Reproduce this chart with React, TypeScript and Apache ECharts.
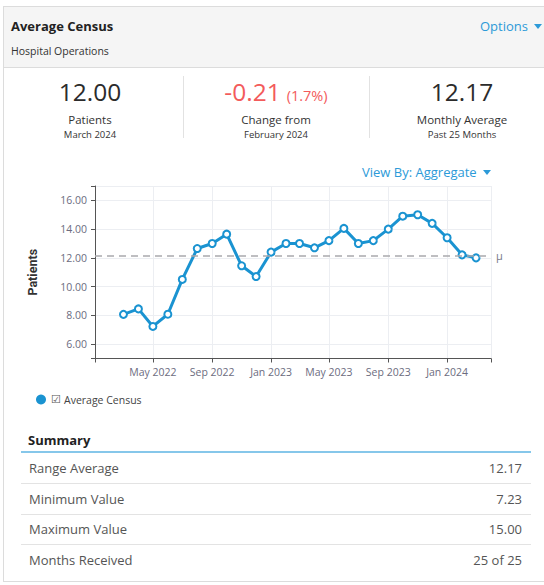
import React, { useEffect, useRef } from 'react';
import * as echarts from 'echarts';

const months = [
  '2022-03', '2022-04', '2022-05', '2022-06', '2022-07', '2022-08', '2022-09', '2022-10', '2022-11', '2022-12',
  '2023-01', '2023-02', '2023-03', '2023-04', '2023-05', '2023-06', '2023-07', '2023-08', '2023-09', '2023-10',
  '2023-11', '2023-12', '2024-01', '2024-02', '2024-03',
];
const census = [
  8.07, 8.45, 7.23, 8.08, 10.5, 12.65, 13.0, 13.65, 11.45, 10.7,
  12.4, 13.0, 13.0, 12.7, 13.2, 14.05, 13.0, 13.2, 14.0, 14.9,
  15.0, 14.4, 13.4, 12.21, 12.0,
];
const yLabelValues = [6, 8, 10, 12, 14, 16];
const yTickValues = [5, 6, 8, 10, 12, 14, 16, 17];
const yRange = [5, 17];
const xLabelMonths = ['2022-05', '2022-09', '2023-01', '2023-05', '2023-09', '2024-01'];
const xRange = ['2022-01', '2024-04'];
const monthNames = ['Jan', 'Feb', 'Mar', 'Apr', 'May', 'Jun', 'Jul', 'Aug', 'Sep', 'Oct', 'Nov', 'Dec'];

const kpiValues = ['12.00', '-0.21', '12.17'];
const kpiExtra = ['', '(1.7%)', ''];
const kpiLabels = ['Patients', 'Change from', 'Monthly Average'];
const kpiSubLabels = ['March 2024', 'February 2024', 'Past 25 Months'];

const summaryLabels = ['Range Average', 'Minimum Value', 'Maximum Value', 'Months Received'];
const summaryValues = ['12.17', '7.23', '15.00', '25 of 25'];

const ts = (m: string) => {
  const [y, mo] = m.split('-').map(Number);
  return Date.UTC(y, mo - 1, 1);
};

const FONT = "'Open Sans', 'Noto Sans', sans-serif";
const BLUE = '#1a93d1';
const LINK = '#2c9ad8';
const RED = '#f35b5b';

function Caret({ color }: { color: string }) {
  return (
    <span
      style={{
        display: 'inline-block',
        width: 0,
        height: 0,
        borderLeft: '4px solid transparent',
        borderRight: '4px solid transparent',
        borderTop: `5px solid ${color}`,
        verticalAlign: 'middle',
        marginLeft: 6,
        marginTop: -2,
      }}
    />
  );
}

export default function App() {
  const ref = useRef<HTMLDivElement>(null);

  useEffect(() => {
    if (!ref.current) return;
    const chart = echarts.init(ref.current, undefined, { renderer: 'svg' });
    const mean = census.reduce((a, b) => a + b, 0) / census.length;
    const xTicks = [xRange[0], ...xLabelMonths, xRange[1]].map(ts);
    const option: any = {
      animation: false,
      textStyle: { fontFamily: FONT },
      grid: { left: 95, right: 53, top: 186, bottom: 226.5, containLabel: false },
      legend: {
        left: 31,
        top: 389,
        itemWidth: 10,
        itemHeight: 10,
        textStyle: {
          fontSize: 10.5,
          color: '#444',
          fontFamily: FONT,
          rich: { cb: { fontFamily: 'DejaVu Sans', fontSize: 11, color: '#555', width: 13 } },
        },
        formatter: (name: string) => `{cb|☑}${name}`,
        data: [{ name: 'Average Census', icon: 'circle', itemStyle: { color: BLUE, borderWidth: 0 } }],
        selectedMode: false,
      },
      xAxis: {
        type: 'value',
        min: ts(xRange[0]),
        max: ts(xRange[1]),
        axisLine: { show: true, lineStyle: { color: '#555', width: 1 } },
        axisTick: { show: true, length: 4, lineStyle: { color: '#555' }, customValues: xTicks },
        axisLabel: {
          customValues: xLabelMonths.map(ts),
          formatter: (v: number) => {
            const d = new Date(v);
            return `${monthNames[d.getUTCMonth()]} ${d.getUTCFullYear()}`;
          },
          color: '#6c6c80',
          fontSize: 10.5,
          margin: 8,
          fontFamily: FONT,
        },
        splitLine: { show: true, lineStyle: { color: '#eceef2', width: 1 } },
      },
      yAxis: {
        type: 'value',
        min: yRange[0],
        max: yRange[1],
        name: 'Patients',
        nameLocation: 'middle',
        nameGap: 56,
        nameTextStyle: { fontWeight: 'bold', fontSize: 12.5, color: '#333', fontFamily: 'Roboto' },
        axisLine: { show: true, lineStyle: { color: '#555', width: 1 } },
        axisTick: { show: true, length: 4, lineStyle: { color: '#555' }, customValues: yTickValues },
        axisLabel: {
          customValues: yLabelValues,
          formatter: (v: number) => v.toFixed(2),
          color: '#6c6c80',
          fontSize: 10.5,
          margin: 8,
          fontFamily: FONT,
        },
        splitLine: { show: true, lineStyle: { color: '#eceef2', width: 1 } },
      },
      series: [
        {
          type: 'line',
          name: 'Average Census',
          data: months.map((m, i) => [ts(m), census[i]]),
          symbol: 'circle',
          symbolSize: 7,
          showAllSymbol: true,
          lineStyle: { width: 3, color: BLUE },
          itemStyle: { color: '#fff', borderColor: BLUE, borderWidth: 2 },
          z: 3,
          markLine: {
            silent: true,
            symbol: ['none', 'none'],
            data: [{ yAxis: mean }],
            lineStyle: { type: [7, 5], color: '#a9a9ad', width: 1.5 },
            label: { show: true, position: 'end', formatter: 'μ', color: '#7a7a8a', fontSize: 11, distance: 5 },
          },
        },
      ],
    };
    chart.setOption(option);
    return () => chart.dispose();
  }, []);

  const colCenters = [90, 276, 462];
  const rowCenters = [468, 498.5, 529, 559.5];

  return (
    <div
      style={{
        position: 'fixed',
        left: 0,
        top: 0,
        width: 544,
        height: 585,
        overflow: 'hidden',
        background: '#fff',
        fontFamily: FONT,
        color: '#333',
      }}
    >
      <div
        style={{
          position: 'absolute',
          left: 3,
          top: 6,
          width: 600,
          height: 576,
          border: '1px solid #dcdcdc',
          boxSizing: 'border-box',
        }}
      />
      <div
        style={{
          position: 'absolute',
          left: 4,
          top: 7,
          width: 600,
          height: 60,
          background: '#f5f5f5',
          borderBottom: '1px solid #dcdcdc',
        }}
      />
      <div style={{ position: 'absolute', left: 11, top: 17, fontSize: 13, fontWeight: 700, lineHeight: '18px', color: '#222' }}>
        Average Census
      </div>
      <div style={{ position: 'absolute', left: 11, top: 43, fontSize: 10.5, lineHeight: '16px', color: '#333' }}>
        Hospital Operations
      </div>
      <div style={{ position: 'absolute', left: 480, top: 17, fontSize: 13, lineHeight: '18px', color: LINK, whiteSpace: 'nowrap' }}>
        Options
        <Caret color={LINK} />
      </div>

      {kpiValues.map((v, i) => (
        <React.Fragment key={i}>
          <div
            style={{
              position: 'absolute',
              left: colCenters[i] - 93,
              top: 77,
              width: 186,
              height: 30,
              lineHeight: '30px',
              textAlign: 'center',
              fontSize: 24.5,
              color: i === 1 ? RED : '#2b2b2b',
              whiteSpace: 'nowrap',
            }}
          >
            {v}
            {kpiExtra[i] ? (
              <span style={{ fontSize: 14.5, lineHeight: '14px', marginLeft: 6, color: RED }}>{kpiExtra[i]}</span>
            ) : null}
          </div>
          <div
            style={{
              position: 'absolute',
              left: colCenters[i] - 93,
              top: 114,
              width: 186,
              textAlign: 'center',
              fontSize: 11.5,
              lineHeight: '12px',
              color: '#333',
            }}
          >
            {kpiLabels[i]}
          </div>
          <div
            style={{
              position: 'absolute',
              left: colCenters[i] - 93,
              top: 129.5,
              width: 186,
              textAlign: 'center',
              fontSize: 9.5,
              lineHeight: '10px',
              color: '#333',
            }}
          >
            {kpiSubLabels[i]}
          </div>
        </React.Fragment>
      ))}
      {[183, 369].map((x) => (
        <div key={x} style={{ position: 'absolute', left: x, top: 76, width: 1, height: 62, background: '#e2e2e2' }} />
      ))}

      <div style={{ position: 'absolute', left: 362, top: 163, fontSize: 13, lineHeight: '18px', color: LINK, whiteSpace: 'nowrap' }}>
        View By: Aggregate
        <Caret color={LINK} />
      </div>

      <div ref={ref} style={{ position: 'absolute', left: 0, top: 0, width: 544, height: 585 }} />

      <div style={{ position: 'absolute', left: 28, top: 431, fontSize: 13, fontWeight: 700, lineHeight: '18px', color: '#222' }}>
        Summary
      </div>
      <div style={{ position: 'absolute', left: 21, top: 451, width: 510, height: 2, background: '#86c7ea' }} />
      {summaryLabels.map((l, i) => (
        <React.Fragment key={l}>
          <div style={{ position: 'absolute', left: 29, top: rowCenters[i] - 9, fontSize: 13, lineHeight: '18px', color: '#555' }}>{l}</div>
          <div style={{ position: 'absolute', right: 544 - 522, top: rowCenters[i] - 9, fontSize: 13, lineHeight: '18px', color: '#555' }}>
            {summaryValues[i]}
          </div>
          {i < summaryLabels.length - 1 ? (
            <div style={{ position: 'absolute', left: 21, top: rowCenters[i] + 15, width: 510, height: 1, background: '#e3e3e3' }} />
          ) : null}
        </React.Fragment>
      ))}
    </div>
  );
}
